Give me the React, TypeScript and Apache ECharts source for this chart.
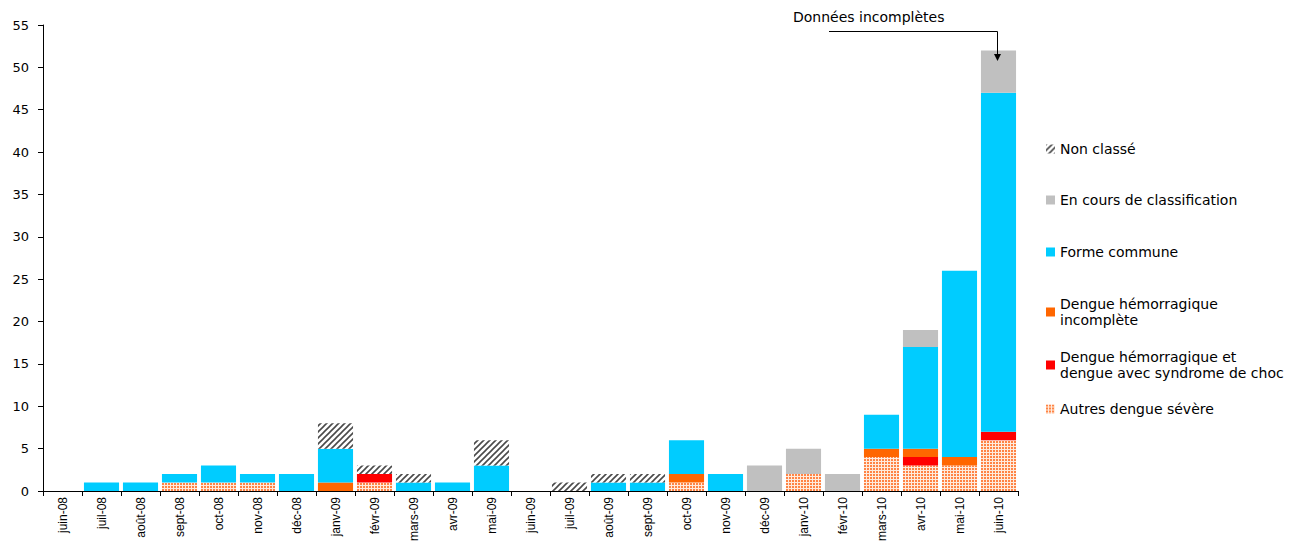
import React, { useEffect, useRef } from "react";
import * as echarts from "echarts";

const categories = ['juin-08','juil-08','août-08','sept-08','oct-08','nov-08','déc-08','janv-09','févr-09','mars-09','avr-09','mai-09','juin-09','juil-09','août-09','sept-09','oct-09','nov-09','déc-09','janv-10','févr-10','mars-10','avr-10','mai-10','juin-10'];
const autresSevere = [0,0,0,1,1,1,0,0,1,0,0,0,0,0,0,0,1,0,0,2,0,4,3,3,6];
const dhChoc =       [0,0,0,0,0,0,0,0,1,0,0,0,0,0,0,0,0,0,0,0,0,0,1,0,1];
const dhIncomplete = [0,0,0,0,0,0,0,1,0,0,0,0,0,0,0,0,1,0,0,0,0,1,1,1,0];
const formeCommune = [0,1,1,1,2,1,2,4,0,1,1,3,0,0,1,1,4,2,0,0,0,4,12,22,40];
const enCours =      [0,0,0,0,0,0,0,0,0,0,0,0,0,0,0,0,0,0,3,3,2,0,2,0,5];
const nonClasse =    [0,0,0,0,0,0,0,3,1,1,0,3,0,1,1,1,0,0,0,0,0,0,0,0,0];
const yTicks = { min: 0, max: 55, interval: 5 };

function makeHatch() {
  const c = document.createElement("canvas");
  c.width = 6; c.height = 6;
  const g = c.getContext("2d")!;
  g.fillStyle = "#ffffff"; g.fillRect(0, 0, 6, 6);
  g.strokeStyle = "#4a4a4a"; g.lineWidth = 1.6;
  g.beginPath();
  g.moveTo(-1, 7); g.lineTo(7, -1);
  g.moveTo(-4, 4); g.lineTo(4, -4);
  g.moveTo(2, 10); g.lineTo(10, 2);
  g.stroke();
  return { image: c, repeat: "repeat", imageWidth: 6, imageHeight: 6 };
}
function makeDots() {
  const c = document.createElement("canvas");
  c.width = 3; c.height = 3;
  const g = c.getContext("2d")!;
  g.fillStyle = "#FFEBDD"; g.fillRect(0, 0, 3, 3);
  g.fillStyle = "#FF8445"; g.fillRect(0, 0, 2, 2);
  return { image: c, repeat: "repeat", imageWidth: 3, imageHeight: 3 };
}

const FONT = "'DejaVu Sans', Verdana, sans-serif";
const NARROW = "'Liberation Sans', Arial, sans-serif";

export default function App() {
  const ref = useRef<HTMLDivElement>(null);
  useEffect(() => {
    if (!ref.current) return;
    const chart = echarts.init(ref.current, null, { renderer: "svg" });
    const hatch = makeHatch();
    const dots = makeDots();
    const names = {
      nc: "Non classé",
      ec: "En cours de classification",
      fc: "Forme commune",
      dhi: "Dengue hémorragique\nincomplète",
      dhs: "Dengue hémorragique et\ndengue avec syndrome de choc",
      au: "Autres dengue sévère",
    };
    const mk = (name: string, data: number[], color: any) => ({
      name, type: "bar", stack: "s", data, barCategoryGap: "10%",
      itemStyle: { color }, emphasis: { disabled: true },
    });
    const leg = (name: string, center: number, multi: boolean) => ({
      show: true,
      orient: "vertical",
      left: 1041,
      top: multi ? center - 21 : center - 12,
      itemWidth: 9, itemHeight: 9, itemGap: 0,
      icon: "rect",
      selectedMode: false,
      data: [name],
      textStyle: multi
        ? { fontFamily: FONT, fontSize: 14, color: "#000", lineHeight: 16, padding: [16, 0, 0, 0] }
        : { fontFamily: FONT, fontSize: 14, color: "#000" },
    });
    chart.setOption({
      animation: false,
      backgroundColor: "#fff",
      grid: { left: 43, right: 293, top: 25, bottom: 50, containLabel: false, outerBoundsMode: "none" },
      legend: [
        leg(names.nc, 149, false),
        leg(names.ec, 200, false),
        leg(names.fc, 252, false),
        leg(names.dhi, 304, true),
        leg(names.dhs, 357, true),
        leg(names.au, 409, false),
      ],
      xAxis: {
        type: "category",
        data: categories,
        axisLine: { lineStyle: { color: "#000", width: 1 } },
        axisTick: { show: true, length: 5, lineStyle: { color: "#000" } },
        axisLabel: { rotate: 90, margin: 6, fontFamily: NARROW, fontSize: 12, color: "#000", interval: 0 },
      },
      yAxis: {
        type: "value",
        min: yTicks.min, max: yTicks.max, interval: yTicks.interval,
        splitLine: { show: false },
        axisLine: { show: true, lineStyle: { color: "#000", width: 1 } },
        axisTick: { show: true, length: 5, lineStyle: { color: "#000" } },
        axisLabel: { margin: 14, fontFamily: FONT, fontSize: 13, color: "#000" },
      },
      series: [
        mk(names.au, autresSevere, dots),
        mk(names.dhs, dhChoc, "#FF0000"),
        mk(names.dhi, dhIncomplete, "#FF6600"),
        mk(names.fc, formeCommune, "#00CCFF"),
        mk(names.ec, enCours, "#C0C0C0"),
        mk(names.nc, nonClasse, hatch),
      ],
      graphic: [
        { type: "text", z: 100, left: 793, top: 10, style: { text: "Données incomplètes", font: `14px ${FONT}`, fill: "#000" } },
        { type: "polyline", z: 100, shape: { points: [[829, 31.5], [997.5, 31.5], [997.5, 55]] }, style: { stroke: "#000", lineWidth: 1, fill: "none" } },
        { type: "polygon", z: 100, shape: { points: [[994, 54], [1001, 54], [997.5, 61]] }, style: { fill: "#000" } },
      ],
    });
    return () => chart.dispose();
  }, []);
  return <div ref={ref} style={{ position: "absolute", left: 0, top: 0, width: 1311, height: 541 }} />;
}
